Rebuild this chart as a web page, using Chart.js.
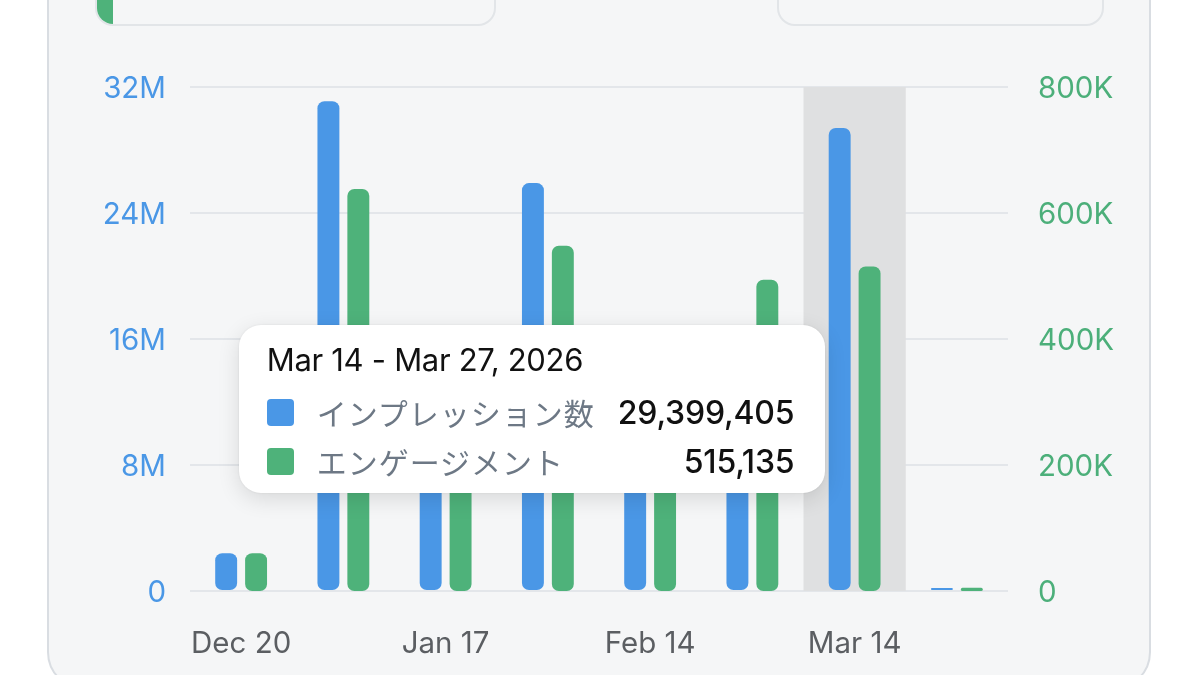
<!DOCTYPE html>
<html>
<head>
<meta charset="utf-8">
<script src="https://cdn.jsdelivr.net/npm/chart.js@4/dist/chart.umd.min.js"></script>
<style>
  html, body { margin:0; padding:0; width:1199px; height:675px; overflow:hidden; background:#ffffff; }
  #card { position:absolute; left:47px; top:-60px; width:1104px; height:750px; box-sizing:border-box;
          border:2px solid #d9dde2; border-radius:38px; background:#f5f6f7; }
  .box { position:absolute; top:-40px; height:66px; box-sizing:border-box; border:2px solid #e2e5e8;
         border-radius:18px; background:#f5f6f7; overflow:hidden; }
  #box1 { left:95px; width:401px; }
  #box2 { left:777px; width:327px; }
  #accent { position:absolute; left:0; top:0; width:16px; height:100%; background:#4eb27a; }
  #wrap { position:absolute; left:0; top:0; width:1199px; height:675px; }
  #tip { position:absolute; background:#ffffff; border-radius:22px; padding:14px 31px 7px 28px;
         box-shadow:0 6px 22px rgba(0,0,0,0.12), 0 0 3px rgba(0,0,0,0.08); opacity:0; pointer-events:none;
         font-family:Inter, "Noto Sans CJK JP", sans-serif; white-space:nowrap; }
  #tip .title { font-size:31px; color:#111; line-height:42px; margin-bottom:7px; letter-spacing:-0.3px; }
  #tip .grid { display:grid; grid-template-columns:27px auto auto; column-gap:23px; row-gap:0; align-items:center; }
  #tip .sw { width:27px; height:27px; border-radius:4px; }
  #tip .lab { font-family:"Noto Sans CJK JP", sans-serif; font-size:30px; color:#6d7885; line-height:49px; letter-spacing:1.0px; }
  #tip .val { font-size:32px; font-weight:500; color:#111; text-align:right; line-height:49px; letter-spacing:-0.2px; }
</style>
</head>
<body>
<div id="card"></div>
<div class="box" id="box1"><div id="accent"></div></div>
<div class="box" id="box2"></div>
<div id="wrap"><canvas id="c" width="1199" height="675"></canvas><div id="tip"></div></div>
<script>
// ---- data ----
const categories = ['Dec 20','Jan 3','Jan 17','Jan 31','Feb 14','Feb 28','Mar 14','Mar 28'];
const periodTitles = ['Dec 20, 2025 - Jan 2, 2026','Jan 3 - Jan 16, 2026','Jan 17 - Jan 30, 2026','Jan 31 - Feb 13, 2026',
                      'Feb 14 - Feb 27, 2026','Feb 28 - Mar 13, 2026','Mar 14 - Mar 27, 2026','Mar 28 - Apr 10, 2026'];
const impressions = [2400000, 31100000, 15000000, 25900000, 13000000, 15500000, 29399405, 190000];
const engagements = [60000, 638000, 350000, 548000, 320000, 494000, 515135, 5000];
const seriesNames = ['インプレッション数', 'エンゲージメント'];
const leftTicks = [0, 8000000, 16000000, 24000000, 32000000];
const rightTicks = [0, 200000, 400000, 600000, 800000];
const activeIndex = 6;

const BLUE = '#4a97e6', GREEN = '#4eb27a';

Chart.Tooltip.positioners.atEvent = function(elements, eventPosition) {
  if (!elements.length) return false;
  return { x: eventPosition.x, y: eventPosition.y };
};

const highlightPlugin = {
  id: 'highlight',
  beforeDatasetsDraw(chart) {
    const x = chart.scales.x, area = chart.chartArea;
    const w = area.width / categories.length;
    const cx = x.getPixelForValue(activeIndex);
    const ctx = chart.ctx;
    ctx.save();
    ctx.fillStyle = '#dfe0e1';
    ctx.fillRect(cx - w / 2, area.top, w, area.bottom - area.top);
    ctx.restore();
  }
};

function externalTip(context) {
  const { chart, tooltip } = context;
  const el = document.getElementById('tip');
  if (tooltip.opacity === 0) { el.style.opacity = 0; return; }
  const idx = tooltip.dataPoints[0].dataIndex;
  let html = '<div class="title">' + periodTitles[idx] + '</div><div class="grid">';
  tooltip.dataPoints.forEach((dp) => {
    const col = dp.dataset.backgroundColor;
    html += '<div class="sw" style="background:' + col + '"></div>' +
            '<div class="lab">' + dp.dataset.label + '</div>' +
            '<div class="val">' + dp.raw.toLocaleString('en-US') + '</div>';
  });
  html += '</div>';
  el.innerHTML = html;
  el.style.opacity = 1;
  const meta = chart.getDatasetMeta(0).data[idx];
  const right = meta.x - meta.width / 2 - 3;
  el.style.left = (right - el.offsetWidth) + 'px';
  el.style.top = (tooltip.caretY - el.offsetHeight / 2) + 'px';
}

const tickFont = { family: 'Inter', size: 29.5 };

const chart = new Chart(document.getElementById('c'), {
  type: 'bar',
  data: {
    labels: categories,
    datasets: [
      { label: seriesNames[0], data: impressions, backgroundColor: BLUE, hoverBackgroundColor: BLUE, yAxisID: 'y',
        borderRadius: 7, borderSkipped: false, categoryPercentage: 0.585, barPercentage: 0.733 },
      { label: seriesNames[1], data: engagements, backgroundColor: GREEN, hoverBackgroundColor: GREEN, yAxisID: 'y1',
        borderRadius: 7, borderSkipped: false, categoryPercentage: 0.585, barPercentage: 0.733 }
    ]
  },
  options: {
    responsive: false,
    animation: false,
    layout: { padding: { top: 87, left: 0, right: 0, bottom: 0 } },
    plugins: {
      legend: { display: false },
      tooltip: { enabled: false, mode: 'index', intersect: false, position: 'atEvent', external: externalTip }
    },
    interaction: { mode: 'index', intersect: false },
    scales: {
      x: {
        grid: { display: false }, border: { display: false },
        ticks: {
          autoSkip: false, maxRotation: 0, padding: 27, color: '#5b5e62', font: tickFont,
          callback: function(v, i) { return i % 2 === 0 ? categories[i] : ''; }
        },
        afterFit(s) { s.height = 84; }
      },
      y: {
        position: 'left', min: 0, max: 32000000,
        afterBuildTicks(s) { s.ticks = leftTicks.map(v => ({ value: v })); },
        grid: { color: '#e3e6ea', lineWidth: 2, drawTicks: false }, border: { display: false },
        ticks: { padding: 24, labelOffset: 2, color: BLUE, font: tickFont,
                 callback: v => v === 0 ? '0' : (v / 1000000) + 'M' },
        afterFit(s) { s.width = 190; }
      },
      y1: {
        position: 'right', min: 0, max: 800000,
        afterBuildTicks(s) { s.ticks = rightTicks.map(v => ({ value: v })); },
        grid: { display: false }, border: { display: false },
        ticks: { padding: 22, labelOffset: 2, color: '#4caf7a', font: tickFont,
                 callback: v => v === 0 ? '0' : (v / 1000) + 'K' },
        afterFit(s) { s.width = 191; }
      }
    }
  },
  plugins: [highlightPlugin]
});

const active = [{ datasetIndex: 0, index: activeIndex }, { datasetIndex: 1, index: activeIndex }];
chart.setActiveElements(active);
chart.tooltip.setActiveElements(active, { x: chart.scales.x.getPixelForValue(activeIndex), y: 409 });
chart.update();
</script>
</body>
</html>
